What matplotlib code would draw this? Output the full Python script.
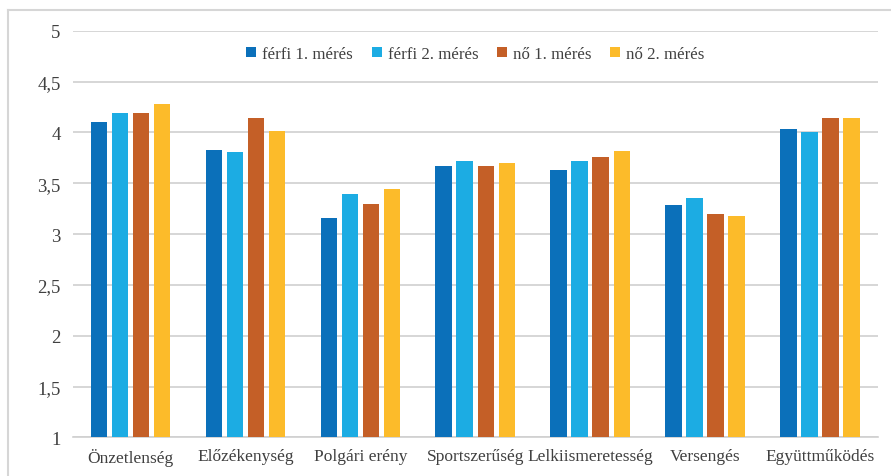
import matplotlib
matplotlib.use("Agg")
import matplotlib.pyplot as plt
from matplotlib.lines import Line2D
import numpy as np

plt.rcParams['font.family'] = 'serif'
plt.rcParams['font.serif'] = ['Liberation Serif', 'DejaVu Serif']

categories = ["Önzetlenség", "Előzékenység", "Polgári erény", "Sportszerűség",
              "Lelkiismeretesség", "Versengés", "Együttműködés"]
series_names = ["férfi 1. mérés", "férfi 2. mérés", "nő 1. mérés", "nő 2. mérés"]
ferfi_1 = [4.10, 3.83, 3.16, 3.67, 3.63, 3.29, 4.03]
ferfi_2 = [4.19, 3.81, 3.39, 3.72, 3.72, 3.35, 4.00]
no_1 = [4.19, 4.14, 3.30, 3.67, 3.76, 3.20, 4.14]
no_2 = [4.28, 4.01, 3.44, 3.70, 3.82, 3.18, 4.14]
colors = ["#0B70BA", "#1CACE3", "#C45F27", "#FCBB2A"]
yticks = [1, 1.5, 2, 2.5, 3, 3.5, 4, 4.5, 5]

fig = plt.figure(figsize=(8.91, 4.77), dpi=100)
ax = fig.add_axes([0.082, 0.081, 0.903, 0.8525])

x = np.arange(len(categories))
step = 0.183
width = 0.145
for i, vals in enumerate([ferfi_1, ferfi_2, no_1, no_2]):
    ax.bar(x + (i - 1.5) * step, np.array(vals) - 1, width, bottom=1,
           color=colors[i], label=series_names[i], zorder=3)

ax.set_xlim(-0.5, len(categories) - 0.5)
ax.set_ylim(1, 5)
ax.set_yticks(yticks)
ax.set_yticklabels([("%g" % t).replace(".", ",") for t in yticks])
ax.set_xticks(x)
ax.set_xticklabels(categories)
ax.tick_params(length=0, labelsize=12.5, colors="#404040", pad=8)
ax.tick_params(axis="y", pad=9, labelsize=13.5)
ax.grid(axis="y", color="#D0D0D0", linewidth=1.2, zorder=0)
for s in ["top", "right", "left"]:
    ax.spines[s].set_visible(False)
ax.spines["bottom"].set_color("#D0D0D0")
ax.spines["bottom"].set_linewidth(1.2)

ax.legend(loc="center", bbox_to_anchor=(0.5, 0.943), ncol=4, frameon=False,
          fontsize=12.2, handlelength=0.6, handleheight=0.6, handletextpad=0.35,
          columnspacing=1.1, labelcolor="#404040")

# outer chart frame (partly cropped in the original)
fig.add_artist(Line2D([8 / 891, 1], [1 - 11 / 477, 1 - 11 / 477],
                      color="#D6D6D6", linewidth=1.5, transform=fig.transFigure))
fig.add_artist(Line2D([8 / 891, 8 / 891], [0, 1 - 11 / 477],
                      color="#D6D6D6", linewidth=1.5, transform=fig.transFigure))

fig.savefig("out.png", dpi=100)
